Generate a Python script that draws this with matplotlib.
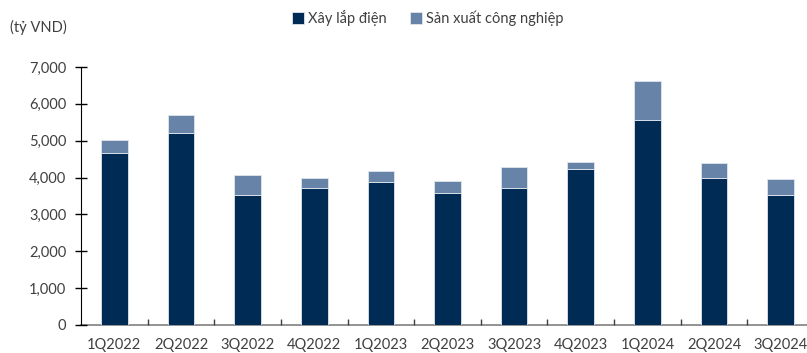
import matplotlib
matplotlib.use("Agg")
import matplotlib.pyplot as plt
import numpy as np
from matplotlib.ticker import FuncFormatter, FixedLocator

categories = ["1Q2022", "2Q2022", "3Q2022", "4Q2022", "1Q2023", "2Q2023",
              "3Q2023", "4Q2023", "1Q2024", "2Q2024", "3Q2024"]
xay_lap_dien = [4680, 5220, 3520, 3720, 3880, 3580, 3730, 4230, 5570, 4000, 3540]
san_xuat_cn = [340, 490, 540, 270, 310, 340, 570, 180, 1050, 390, 420]
yticks = [0, 1000, 2000, 3000, 4000, 5000, 6000, 7000]

plt.rcParams['font.family'] = ['Lato', 'DejaVu Sans']
dark = "#002B55"
light = "#6783A7"
txt = "#404040"

fig = plt.figure(figsize=(8.07, 3.53), dpi=100)
ax = fig.add_axes([81/807, 1-325/353, (814-81)/807, (325-67)/353])

x = np.arange(len(categories))
ax.bar(x, xay_lap_dien, width=0.4, color=dark, edgecolor="#dfe6ee", linewidth=0.6, label="Xây lắp điện")
ax.bar(x, san_xuat_cn, width=0.4, bottom=xay_lap_dien, color=light, edgecolor="#dfe6ee", linewidth=0.6,
       label="Sản xuất công nghiệp")

ax.set_xlim(-0.5, len(categories) - 0.5)
ax.set_ylim(0, 7000)
ax.set_yticks(yticks)
ax.yaxis.set_major_formatter(FuncFormatter(lambda v, p: f"{int(v):,}"))
ax.set_xticks(x)
ax.set_xticklabels(categories)
ax.xaxis.set_minor_locator(FixedLocator(np.arange(0.5, len(categories) - 0.5, 1)))
ax.tick_params(axis='x', which='major', length=0, pad=9, labelsize=10.5, labelcolor=txt)
ax.tick_params(axis='x', which='minor', length=4, direction='in', color="#404040", width=1)
ax.tick_params(axis='y', which='major', length=9, direction='inout', color="black", width=1,
               pad=6, labelsize=10.5, labelcolor=txt)

for s in ['top', 'right']:
    ax.spines[s].set_visible(False)
ax.spines['left'].set_color("black")
ax.spines['bottom'].set_color("#808080")
ax.spines['bottom'].set_linewidth(1.2)
ax.spines['bottom'].set_zorder(0)

fig.text(10/807, 1-27/353, "(tỷ VND)", ha='left', va='center', fontsize=10.5, color=txt)

leg = fig.legend(loc='center', bbox_to_anchor=(428/807, 1-18/353), ncol=2, frameon=False,
                 fontsize=10.5, handlelength=0.8, handleheight=0.8, handletextpad=0.3,
                 columnspacing=1.6, labelcolor=txt)

fig.savefig("out.png", dpi=100)
